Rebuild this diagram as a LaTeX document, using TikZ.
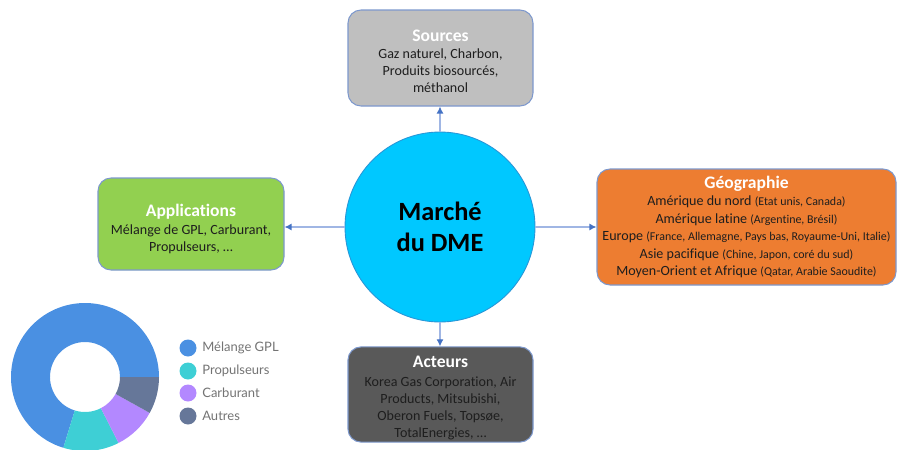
\documentclass[tikz,border=0pt]{standalone}
\usepackage{fontspec}
\setmainfont{Carlito}[Ligatures=NoCommon]
\newfontfamily\legfont{Lato}
\usetikzlibrary{arrows.meta}

\definecolor{srcgray}{RGB}{191,191,191}
\definecolor{geoorange}{RGB}{237,125,49}
\definecolor{appgreen}{RGB}{146,208,80}
\definecolor{actgray}{RGB}{89,89,89}
\definecolor{mktcyan}{RGB}{0,200,255}
\definecolor{mktedge}{RGB}{40,150,215}
\definecolor{edgeblue}{RGB}{125,152,205}
\definecolor{linkblue}{RGB}{160,182,228}
\definecolor{tipblue}{RGB}{68,114,196}
\definecolor{txtdark}{RGB}{30,30,30}
\definecolor{keygray}{RGB}{115,115,115}
\definecolor{pieblue}{RGB}{74,144,226}
\definecolor{piecyan}{RGB}{62,207,213}
\definecolor{piepurple}{RGB}{179,136,255}
\definecolor{pieslate}{RGB}{102,119,153}

\newcommand{\pxl}[1]{#1*0.02cm}
\newcommand{\topgap}[1]{\rule{0pt}{#1}}
\newcommand{\cardtitle}[1]{{\fontsize{10}{12}\selectfont\bfseries\color{white}#1}}
\newcommand{\paren}[1]{{\fontsize{6.8}{7.5}\selectfont #1}}
\newcommand{\cardfont}{\fontsize{8}{9.7}\selectfont\lineskiplimit=-10pt\relax}
\newcommand{\geofont}{\fontsize{8}{9.9}\selectfont\lineskiplimit=-10pt\relax}
\newcommand{\cardn}{\node[card]}
\newcommand{\dotn}{\node[circle, inner sep=0pt, minimum size=\pxl{17}]}
\newcommand{\keyn}{\node[anchor=west, inner sep=0pt, text=keygray, font=\legfont\fontsize{7.4}{9}\selectfont]}

\tikzset{
  card/.style={rectangle, rounded corners=0.26cm, draw=edgeblue, line width=0.6pt,
               align=center, text=txtdark, inner sep=1pt, font=\cardfont},
  link/.style={draw=linkblue, line width=0.7pt, -{Latex[length=4pt, width=4pt, color=tipblue]}},
}

\begin{document}
\begin{tikzpicture}[x=0.02cm, y=-0.02cm]
    \useasboundingbox (0,0) rectangle (897,450);

    % centre
    \node[circle, fill=mktcyan, draw=mktedge, line width=0.5pt, minimum size=3.8cm,
          align=center, font=\fontsize{15}{18}\selectfont\bfseries] (mkt) at (440,227) {Marché\\du DME};

    % cards
    \cardn[fill=srcgray, minimum width=\pxl{185}, minimum height=\pxl{96}]
        (src) at (440.5,58) {\cardtitle{\topgap{10.5pt}Sources}\\
        Gaz naturel, Charbon,\\ Produits biosourcés,\\ méthanol};
    \cardn[fill=geoorange, minimum width=\pxl{299}, minimum height=\pxl{116}, font=\geofont]
        (geo) at (746.5,227) {\cardtitle{Géographie}\\
        Amérique du nord \paren{(Etat unis, Canada)}\\
        Amérique latine \paren{(Argentine, Brésil)}\\
        Europe \paren{(France, Allemagne, Pays bas, Royaume-Uni, Italie)}\\
        Asie pacifique \paren{(Chine, Japon, coré du sud)}\\
        Moyen-Orient et Afrique \paren{(Qatar, Arabie Saoudite)}};
    \cardn[fill=appgreen, minimum width=\pxl{186}, minimum height=\pxl{92}]
        (app) at (191,224) {\cardtitle{\topgap{13pt}Applications}\\[0.5pt]
        Mélange de GPL, Carburant,\\ Propulseurs, \dots};
    \cardn[fill=actgray, minimum width=\pxl{185}, minimum height=\pxl{95}]
        (act) at (440.5,394.5) {\cardtitle{\topgap{11pt}Acteurs}\\[1pt]
        Korea Gas Corporation, Air\\ Products, Mitsubishi,\\ Oberon Fuels, Topsøe,\\ TotalEnergies, \dots};

    \draw[link] (mkt.north) -- (mkt.north |- src.south);
    \draw[link] (mkt.south) -- (mkt.south |- act.north);
    \draw[link] (mkt.east) -- (mkt.east -| geo.west);
    \draw[link] (mkt.west) -- (mkt.west -| app.east);

    % donut
    \begin{scope}[shift={(85,377)}, x=0.02cm, y=0.02cm]
        \fill[pieblue] (0:74) arc[start angle=0, end angle=253, radius=74]
            -- (253:35) arc[start angle=253, end angle=0, radius=35] -- cycle;
        \fill[piecyan] (253:74) arc[start angle=253, end angle=297, radius=74]
            -- (297:35) arc[start angle=297, end angle=253, radius=35] -- cycle;
        \fill[piepurple] (297:74) arc[start angle=297, end angle=331, radius=74]
            -- (331:35) arc[start angle=331, end angle=297, radius=35] -- cycle;
        \fill[pieslate] (331:74) arc[start angle=331, end angle=360, radius=74]
            -- (360:35) arc[start angle=360, end angle=331, radius=35] -- cycle;
    \end{scope}

    % legend
    \dotn[fill=pieblue] (k1) at (188,348) {};
    \dotn[fill=piecyan] (k2) at (188,371) {};
    \dotn[fill=piepurple] (k3) at (188,393) {};
    \dotn[fill=pieslate] (k4) at (188,416) {};
    \keyn (t1) at (202,348) {Mélange GPL};
    \keyn (t2) at (202,371) {Propulseurs};
    \keyn (t3) at (202,393) {Carburant};
    \keyn (t4) at (202,416) {Autres};
\end{tikzpicture}
\end{document}
